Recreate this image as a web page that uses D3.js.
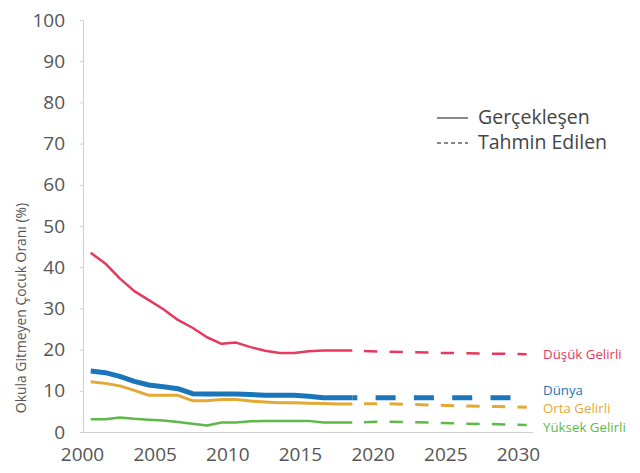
<!DOCTYPE html>
<html>
<head>
<meta charset="utf-8">
<script src="https://cdn.jsdelivr.net/npm/d3@7"></script>
<style>
  body { margin: 0; background: #fff; }
  svg { display: block; font-family: "Open Sans", sans-serif; }
</style>
</head>
<body>
<script>
// actual values, 2000-2018
const years = d3.range(2000, 2019);
const dusuk = [43.5, 40.9, 37.3, 34.2, 32.0, 29.8, 27.2, 25.3, 23.0, 21.4, 21.7, 20.6, 19.7, 19.2, 19.2, 19.6, 19.8, 19.8, 19.8];
const dunya = [14.8, 14.4, 13.5, 12.3, 11.4, 11.0, 10.5, 9.3, 9.2, 9.2, 9.2, 9.1, 8.9, 8.9, 8.9, 8.7, 8.3, 8.3, 8.3];
const orta = [12.2, 11.8, 11.2, 10.1, 8.9, 8.9, 8.9, 7.6, 7.6, 7.9, 7.9, 7.5, 7.3, 7.1, 7.1, 7.0, 6.9, 6.8, 6.8];
const yuksek = [3.1, 3.1, 3.5, 3.2, 3.0, 2.8, 2.4, 2.0, 1.6, 2.3, 2.3, 2.6, 2.7, 2.7, 2.7, 2.7, 2.3, 2.3, 2.3];

// forecast values, 2018-2030
const fYears = [2018, 2020, 2022, 2024, 2026, 2028, 2030];
const dusukF = [19.8, 19.5, 19.4, 19.2, 19.1, 19.0, 18.9];
const dunyaF = [8.3, 8.3, 8.3, 8.3, 8.3, 8.3, 8.3];
const ortaF = [6.8, 6.9, 6.7, 6.5, 6.3, 6.2, 6.0];
const yuksekF = [2.3, 2.5, 2.4, 2.2, 2.0, 1.9, 1.7];

const xTicks = [2000, 2005, 2010, 2015, 2020, 2025, 2030];
const yTicks = d3.range(0, 101, 10);

const series = [
    { name: "Düşük Gelirli", color: "#e6395e", width: 2.5, actual: dusuk, forecast: dusukF, dash: "13.3,12.3", offset: 13.9, labelY: 354 },
    { name: "Dünya", color: "#1b75bb", width: 5, actual: dunya, forecast: dunyaF, dash: "20,18.3", offset: 15, labelY: 390 },
    { name: "Orta Gelirli", color: "#e2a935", width: 3, actual: orta, forecast: ortaF, dash: "13.3,12.3", offset: 13.9, labelY: 408.5 },
    { name: "Yüksek Gelirli", color: "#5eb948", width: 2.5, actual: yuksek, forecast: yuksekF, dash: "13.3,12.3", offset: 13.9, labelY: 427 }
];

const width = 640, height = 473;
const yearOffset = 0.6; // data sit a bit right of the year tick

const x = d3.scaleLinear().domain([2000, 2031]).range([82, 532.5]);
const y = d3.scaleLinear().domain([0, 100]).range([432, 20]);

const svg = d3.select("body").append("svg")
    .attr("width", width)
    .attr("height", height);

// y axis
const yAxis = svg.append("g")
    .attr("transform", "translate(" + 83 + ",0)")
    .call(d3.axisLeft(y).tickValues(yTicks).tickSize(3).tickSizeOuter(0).tickPadding(15));
yAxis.select(".domain").attr("stroke", "#cfcfcf");
yAxis.selectAll(".tick line").attr("stroke", "#cfcfcf");
yAxis.selectAll("text")
    .attr("fill", "#555")
    .attr("font-size", 19)
    .attr("font-family", "Open Sans, sans-serif");

// x axis
const xAxis = svg.append("g")
    .attr("transform", "translate(0," + 432 + ")")
    .call(d3.axisBottom(x).tickValues(xTicks).tickFormat(d3.format("d")).tickSize(0).tickSizeOuter(0).tickPadding(16));
xAxis.select(".domain").attr("stroke", "#cfcfcf");
xAxis.selectAll("text")
    .attr("fill", "#555")
    .attr("font-size", 19)
    .attr("font-family", "Open Sans, sans-serif");

// axis title
svg.append("text")
    .attr("transform", "translate(26,308) rotate(-90)")
    .attr("text-anchor", "middle")
    .attr("fill", "#555")
    .attr("font-size", 13.9)
    .text("Okula Gitmeyen Çocuk Oranı (%)");

const line = d3.line()
    .x(function (d) { return x(d[0] + yearOffset); })
    .y(function (d) { return y(d[1]); });

series.forEach(function (s) {
    const actualPts = years.map(function (yr, i) { return [yr, s.actual[i]]; });
    const forecastPts = fYears.map(function (yr, i) { return [yr, s.forecast[i]]; });

    svg.append("path")
        .datum(actualPts)
        .attr("fill", "none")
        .attr("stroke", s.color)
        .attr("stroke-width", s.width)
        .attr("stroke-linejoin", "round")
        .attr("d", line);

    svg.append("path")
        .datum(forecastPts)
        .attr("fill", "none")
        .attr("stroke", s.color)
        .attr("stroke-width", s.width)
        .attr("stroke-dasharray", s.dash)
        .attr("stroke-dashoffset", s.offset)
        .attr("d", line);

    svg.append("text")
        .attr("x", 543)
        .attr("y", s.labelY)
        .attr("dy", "0.35em")
        .attr("fill", s.color)
        .attr("font-size", 13.3)
        .text(s.name);
});

// legend
const legend = [
    { label: "Gerçekleşen", dash: null, y: 117 },
    { label: "Tahmin Edilen", dash: "4,3", y: 142 }
];
legend.forEach(function (l) {
    svg.append("line")
        .attr("x1", 437).attr("x2", 468)
        .attr("y1", l.y + 1).attr("y2", l.y + 1)
        .attr("stroke", "#888")
        .attr("stroke-width", 2)
        .attr("stroke-dasharray", l.dash);
    svg.append("text")
        .attr("x", 478)
        .attr("y", l.y)
        .attr("dy", "0.35em")
        .attr("fill", "#444")
        .attr("font-size", 19.5)
        .text(l.label);
});
</script>
</body>
</html>
